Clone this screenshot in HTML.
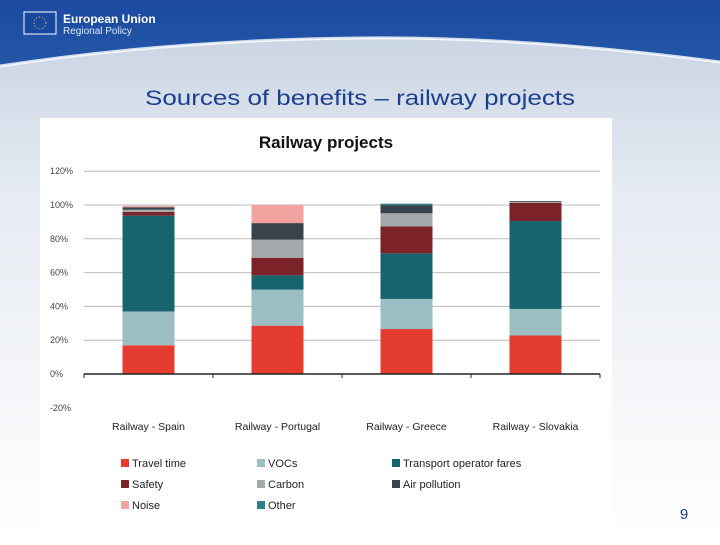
<!DOCTYPE html>
<html><head><meta charset="utf-8"><style>
body{margin:0;width:720px;height:540px;overflow:hidden;font-family:"Liberation Sans",sans-serif;}
</style></head><body>
<svg width="720" height="540" xmlns="http://www.w3.org/2000/svg">
<defs>
<linearGradient id="bg" x1="0" y1="0" x2="0" y2="1"><stop offset="0" stop-color="#c3cfe0"/><stop offset="0.35" stop-color="#e6ebf2"/><stop offset="1" stop-color="#ffffff"/></linearGradient>
<linearGradient id="hd" x1="0" y1="0" x2="0" y2="1"><stop offset="0" stop-color="#1b4aa0"/><stop offset="1" stop-color="#2457a8"/></linearGradient>
</defs>
<rect width="720" height="540" fill="url(#bg)"/>
<path d="M0 0H720V62Q520 36 360 38Q170 40 0 66Z" fill="url(#hd)"/>
<path d="M0 66Q170 40 360 38Q520 36 720 62" fill="none" stroke="#fff" stroke-width="3" opacity="0.8"/>
<rect x="24" y="12" width="32" height="22" fill="#17479e" stroke="#fff" stroke-width="1"/>
<circle cx="40" cy="23" r="6" fill="none" stroke="#f5d23a" stroke-width="1" stroke-dasharray="1 2"/>
<text x="63" y="23" fill="#fff" font-size="12" font-weight="bold">European Union</text>
<text x="63" y="34" fill="#e0e8f5" font-size="10">Regional Policy</text>
<text x="360" y="105" text-anchor="middle" fill="#1a3f8e" font-size="21" textLength="430" lengthAdjust="spacingAndGlyphs">Sources of benefits – railway projects</text>
<rect x="40" y="118" width="572" height="422" fill="#fff"/>
<text x="326" y="148" text-anchor="middle" font-size="17" font-weight="bold" fill="#111">Railway projects</text>
<g id="grid"></g><g id="bars"></g><g id="axis"></g><g id="legend"></g>
<text x="684" y="519" text-anchor="middle" font-size="15" fill="#1a3f8e">9</text>
</svg>
<script>
const categories=["Railway - Spain","Railway - Portugal","Railway - Greece","Railway - Slovakia"];
const seriesNames=["Travel time","VOCs","Transport operator fares","Safety","Carbon","Air pollution","Noise","Other"];
const travelTime=[17,28.6,26.6,22.8];
const vocs=[20,21.3,17.8,15.7];
const transportFares=[56.7,8.5,27,52];
const safety=[2.3,10.4,16,10.8];
const carbon=[1.2,10.7,7.7,0.5];
const airPollution=[1.5,9.8,4.8,0.5];
const noise=[0.8,10.7,0,0];
const other=[0,0,0.9,0];
const yTicks=[-20,0,20,40,60,80,100,120];
const yTickLabels=["-20%","0%","20%","40%","60%","80%","100%","120%"];
const colors=["#e43d30","#9bbec2","#17636e","#7b2328","#a4a9ac","#39434b","#f2a39f","#2f7f8a"];
const series=[travelTime,vocs,transportFares,safety,carbon,airPollution,noise,other];
const NS="http://www.w3.org/2000/svg";
const x0=84,x1=600,y0=374,pp=1.69;
const y=v=>y0-v*pp;
const band=(x1-x0)/categories.length;
function mk(t,a,p){const e=document.createElementNS(NS,t);for(const k in a)e.setAttribute(k,a[k]);p.appendChild(e);return e;}
const grid=document.getElementById('grid'),bars=document.getElementById('bars'),axis=document.getElementById('axis'),leg=document.getElementById('legend');
yTicks.forEach((t,i)=>{
 if(t>0){const l=mk('line',{x1:x0,x2:x1,y1:y(t),y2:y(t),stroke:'#bbb','stroke-width':1},grid);
 
 }
 const tx=mk('text',{x:50,y:y(t)+3,'font-size':9,fill:'#444'},axis);tx.textContent=yTickLabels[i];
 
 
});
categories.forEach((c,ci)=>{
 const cx=x0+band*(ci+0.5),w=52;let acc=0;
 series.forEach((s,si)=>{const v=s[ci];if(!v)return;
  const r=mk('rect',{x:cx-w/2,y:y(acc+v),width:w,height:v*pp,fill:colors[si]},bars);
  
  
  acc+=v;});
 const tx=mk('text',{x:cx,y:430,'text-anchor':'middle','font-size':10.5,fill:'#222'},axis);tx.textContent=c;
 
 
});
const ax=mk('line',{x1:x0,x2:x1,y1:y0,y2:y0,stroke:'#222','stroke-width':1.5},axis);


for(let i=0;i<=categories.length;i++){const t=mk('line',{x1:x0+band*i,x2:x0+band*i,y1:y0,y2:y0+4,stroke:'#222'},axis);
 
 }
const lx=[121,257,392],ly=[463,484,505];
seriesNames.forEach((n,i)=>{const col=i%3,row=Math.floor(i/3);
 const g=mk('g',{},leg);
 
 
 mk('rect',{x:lx[col],y:ly[row]-4,width:8,height:8,fill:colors[i]},g);
 const t=mk('text',{x:lx[col]+11,y:ly[row]+4,'font-size':11,fill:'#222'},g);t.textContent=n;});
</script>
</body></html>
